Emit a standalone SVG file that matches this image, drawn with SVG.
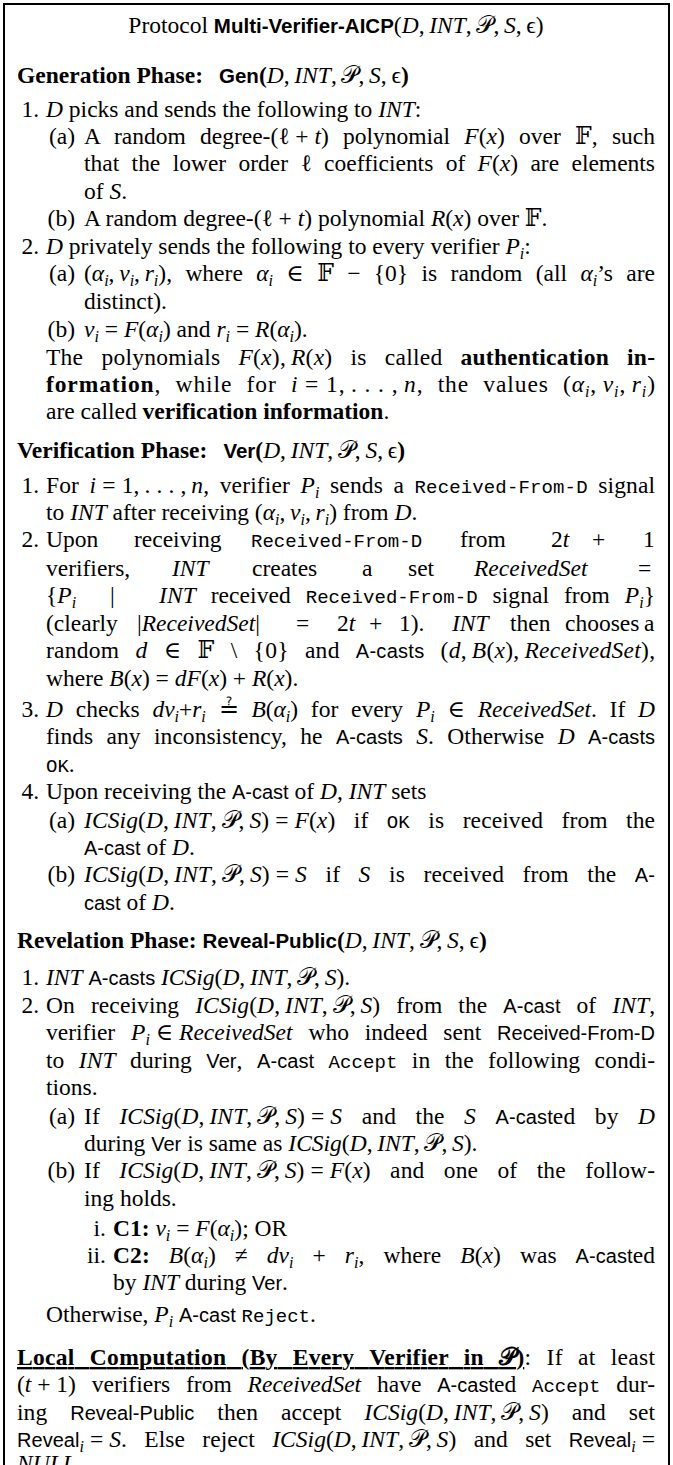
<svg xmlns="http://www.w3.org/2000/svg" width="673" height="1465" viewBox="0 0 673 1465">
<style>
text{font-family:"Liberation Serif","DejaVu Serif",serif;font-size:23.5px;fill:#000}
.i{font-style:italic}
.b{font-weight:bold}
.sf{font-family:"Liberation Sans","DejaVu Sans",sans-serif;font-size:20px;font-style:normal}
.sfb{font-family:"Liberation Sans","DejaVu Sans",sans-serif;font-size:20.5px;font-weight:bold}
.tt{font-family:"Liberation Mono","DejaVu Sans Mono",monospace;font-size:19px}
.s{font-size:16px;font-style:italic;baseline-shift:-5px}
.r{text-anchor:end}
.ul{text-decoration:underline}
</style>
<rect x="0" y="0" width="673" height="1465" fill="#fff"/>
<rect id="frame" x="4" y="4" width="665" height="1500" fill="none" stroke="#000" stroke-width="2"/>
<g id="title">
<text x="336" y="33" text-anchor="middle">Protocol <tspan class="sfb">Multi-Verifier-AICP</tspan>(<tspan class="i">D</tspan>,&#8201;<tspan class="i">INT</tspan>,&#8201;𝒫,&#8201;<tspan class="i">S</tspan>,&#8201;ϵ)</text>
</g>
<g id="generation">
<text x="17" y="83"><tspan class="b">Generation Phase:</tspan><tspan class="sfb" dx="16">Gen</tspan><tspan class="b">(</tspan><tspan class="i">D</tspan>,&#8201;<tspan class="i">INT</tspan>,&#8201;𝒫,&#8201;<tspan class="i">S</tspan>,&#8201;ϵ<tspan class="b">)</tspan></text>
<text class="r" x="39" y="117">1.</text>
<text x="46" y="117"><tspan class="i">D</tspan> picks and sends the following to <tspan class="i">INT</tspan>:</text>
<text class="r" x="75" y="144">(a)</text>
<text x="84" y="144" style="word-spacing:8.5px" textLength="571" lengthAdjust="spacing">A random degree-(ℓ&#8197;+&#8197;<tspan class="i">t</tspan>) polynomial <tspan class="i">F</tspan>(<tspan class="i">x</tspan>) over 𝔽, such</text>
<text x="84" y="171" style="word-spacing:6.5px" textLength="571" lengthAdjust="spacing">that the lower order ℓ coefficients of <tspan class="i">F</tspan>(<tspan class="i">x</tspan>) are elements</text>
<text x="84" y="199">of <tspan class="i">S</tspan>.</text>
<text class="r" x="75" y="226">(b)</text>
<text x="84" y="226">A random degree-(ℓ&#8197;+&#8197;<tspan class="i">t</tspan>) polynomial <tspan class="i">R</tspan>(<tspan class="i">x</tspan>) over 𝔽.</text>
<text class="r" x="39" y="254">2.</text>
<text x="46" y="254"><tspan class="i">D</tspan> privately sends the following to every verifier <tspan class="i">P</tspan><tspan class="s">i</tspan>:</text>
<text class="r" x="75" y="281">(a)</text>
<text x="84" y="281" style="word-spacing:7.5px" textLength="571" lengthAdjust="spacing">(<tspan class="i">α</tspan><tspan class="s">i</tspan>,&#8201;<tspan class="i">v</tspan><tspan class="s">i</tspan>,&#8201;<tspan class="i">r</tspan><tspan class="s">i</tspan>), where <tspan class="i">α</tspan><tspan class="s">i</tspan> ∈ 𝔽 − {0} is random (all <tspan class="i">α</tspan><tspan class="s">i</tspan>’s are</text>
<text x="84" y="309">distinct).</text>
<text class="r" x="75" y="337">(b)</text>
<text x="84" y="337"><tspan class="i">v</tspan><tspan class="s">i</tspan> = <tspan class="i">F</tspan>(<tspan class="i">α</tspan><tspan class="s">i</tspan>) and <tspan class="i">r</tspan><tspan class="s">i</tspan> = <tspan class="i">R</tspan>(<tspan class="i">α</tspan><tspan class="s">i</tspan>).</text>
<text x="46" y="365" style="word-spacing:12px" textLength="609" lengthAdjust="spacing">The polynomials <tspan class="i">F</tspan>(<tspan class="i">x</tspan>),&#8201;<tspan class="i">R</tspan>(<tspan class="i">x</tspan>) is called <tspan class="b">authentication in-</tspan></text>
<text x="46" y="392" style="word-spacing:7.5px" textLength="609" lengthAdjust="spacing"><tspan class="b">formation</tspan>, while for <tspan class="i">i</tspan>&#8197;=&#8197;1,&#8201;.&#8197;.&#8197;.&#8197;,&#8201;<tspan class="i">n</tspan>, the values (<tspan class="i">α</tspan><tspan class="s">i</tspan>,&#8201;<tspan class="i">v</tspan><tspan class="s">i</tspan>,&#8201;<tspan class="i">r</tspan><tspan class="s">i</tspan>)</text>
<text x="46" y="419">are called <tspan class="b">verification information</tspan>.</text>
</g>
<g id="verification">
<text x="17" y="458"><tspan class="b">Verification Phase:</tspan><tspan class="sfb" dx="16">Ver</tspan><tspan class="b">(</tspan><tspan class="i">D</tspan>,&#8201;<tspan class="i">INT</tspan>,&#8201;𝒫,&#8201;<tspan class="i">S</tspan>,&#8201;ϵ<tspan class="b">)</tspan></text>
<text class="r" x="39" y="493">1.</text>
<text x="46" y="493" style="word-spacing:4.5px" textLength="609" lengthAdjust="spacing">For <tspan class="i">i</tspan>&#8197;=&#8197;1,&#8201;.&#8197;.&#8197;.&#8197;,&#8201;<tspan class="i">n</tspan>, verifier <tspan class="i">P</tspan><tspan class="s">i</tspan> sends a <tspan class="tt">Received-From-D</tspan> signal</text>
<text x="46" y="520">to <tspan class="i">INT</tspan> after receiving (<tspan class="i">α</tspan><tspan class="s">i</tspan>,&#8201;<tspan class="i">v</tspan><tspan class="s">i</tspan>,&#8201;<tspan class="i">r</tspan><tspan class="s">i</tspan>) from <tspan class="i">D</tspan>.</text>
<text class="r" x="39" y="547">2.</text>
<text y="547"><tspan x="46">Upon</tspan><tspan x="134">receiving</tspan><tspan x="251" class="tt">Received-From-D</tspan><tspan x="460">from</tspan><tspan x="551">2<tspan class="i">t</tspan></tspan><tspan x="592">+</tspan><tspan x="643">1</tspan></text>
<text y="576"><tspan x="46">verifiers,</tspan><tspan x="172" class="i">INT</tspan><tspan x="252">creates</tspan><tspan x="362">a</tspan><tspan x="408">set</tspan><tspan x="474" class="i">ReceivedSet</tspan><tspan x="638">=</tspan></text>
<text y="603"><tspan x="46">{</tspan><tspan class="i">P</tspan><tspan class="s">i</tspan><tspan x="110">|</tspan></text>
<text x="159" y="603" style="word-spacing:9px" textLength="496" lengthAdjust="spacing"><tspan class="i">INT</tspan> received <tspan class="tt">Received-From-D</tspan> signal from <tspan class="i">P</tspan><tspan class="s">i</tspan>}</text>
<text y="631"><tspan x="46">(clearly</tspan><tspan x="137">|<tspan class="i">ReceivedSet</tspan>|</tspan><tspan x="296">=</tspan><tspan x="337">2<tspan class="i">t</tspan></tspan><tspan x="369">+</tspan><tspan x="399">1).</tspan><tspan x="452" class="i">INT</tspan><tspan x="510">then</tspan><tspan x="565">chooses</tspan><tspan x="644">a</tspan></text>
<text x="46" y="658" style="word-spacing:10px" textLength="609" lengthAdjust="spacing">random <tspan class="i">d</tspan> ∈ 𝔽 \ {0} and <tspan class="sf">A-casts</tspan> (<tspan class="i">d</tspan>,&#8201;<tspan class="i">B</tspan>(<tspan class="i">x</tspan>),&#8201;<tspan class="i">ReceivedSet</tspan>),</text>
<text x="46" y="686">where <tspan class="i">B</tspan>(<tspan class="i">x</tspan>) = <tspan class="i">dF</tspan>(<tspan class="i">x</tspan>) + <tspan class="i">R</tspan>(<tspan class="i">x</tspan>).</text>
<text class="r" x="39" y="717">3.</text>
<text x="46" y="717" style="word-spacing:7px" textLength="609" lengthAdjust="spacing"><tspan class="i">D</tspan> checks <tspan class="i">dv</tspan><tspan class="s">i</tspan>+<tspan class="i">r</tspan><tspan class="s">i</tspan> ≟ <tspan class="i">B</tspan>(<tspan class="i">α</tspan><tspan class="s">i</tspan>) for every <tspan class="i">P</tspan><tspan class="s">i</tspan> ∈ <tspan class="i">ReceivedSet</tspan>. If <tspan class="i">D</tspan></text>
<text x="46" y="744" style="word-spacing:7.5px" textLength="609" lengthAdjust="spacing">finds any inconsistency, he <tspan class="sf">A-casts</tspan> <tspan class="i">S</tspan>. Otherwise <tspan class="i">D</tspan> <tspan class="sf">A-casts</tspan></text>
<text x="46" y="772"><tspan class="tt">OK</tspan>.</text>
<text class="r" x="39" y="799">4.</text>
<text x="46" y="799">Upon receiving the <tspan class="sf">A-cast</tspan> of <tspan class="i">D</tspan>, <tspan class="i">INT</tspan> sets</text>
<text class="r" x="75" y="828">(a)</text>
<text x="84" y="828" style="word-spacing:12.5px" textLength="571" lengthAdjust="spacing"><tspan class="i">ICSig</tspan>(<tspan class="i">D</tspan>,&#8201;<tspan class="i">INT</tspan>,&#8201;𝒫,&#8201;<tspan class="i">S</tspan>)&#8197;=&#8197;<tspan class="i">F</tspan>(<tspan class="i">x</tspan>) if <tspan class="tt">OK</tspan> is received from the</text>
<text x="84" y="855"><tspan class="sf">A-cast</tspan> of <tspan class="i">D</tspan>.</text>
<text class="r" x="75" y="882">(b)</text>
<text x="84" y="882" style="word-spacing:12.5px" textLength="571" lengthAdjust="spacing"><tspan class="i">ICSig</tspan>(<tspan class="i">D</tspan>,&#8201;<tspan class="i">INT</tspan>,&#8201;𝒫,&#8201;<tspan class="i">S</tspan>)&#8197;=&#8197;<tspan class="i">S</tspan> if <tspan class="i">S</tspan> is received from the <tspan class="sf">A-</tspan></text>
<text x="84" y="910"><tspan class="sf">cast</tspan> of <tspan class="i">D</tspan>.</text>
</g>
<g id="revelation">
<text x="17" y="948"><tspan class="b">Revelation Phase:</tspan><tspan class="sfb" dx="6">Reveal-Public</tspan><tspan class="b">(</tspan><tspan class="i">D</tspan>,&#8201;<tspan class="i">INT</tspan>,&#8201;𝒫,&#8201;<tspan class="i">S</tspan>,&#8201;ϵ<tspan class="b">)</tspan></text>
<text class="r" x="39" y="985">1.</text>
<text x="46" y="985"><tspan class="i">INT</tspan> <tspan class="sf">A-casts</tspan> <tspan class="i">ICSig</tspan>(<tspan class="i">D</tspan>,&#8201;<tspan class="i">INT</tspan>,&#8201;𝒫,&#8201;<tspan class="i">S</tspan>).</text>
<text class="r" x="39" y="1013">2.</text>
<text x="46" y="1013" style="word-spacing:10px" textLength="609" lengthAdjust="spacing">On receiving <tspan class="i">ICSig</tspan>(<tspan class="i">D</tspan>,&#8201;<tspan class="i">INT</tspan>,&#8201;𝒫,&#8201;<tspan class="i">S</tspan>) from the <tspan class="sf">A-cast</tspan> of <tspan class="i">INT</tspan>,</text>
<text x="46" y="1040" style="word-spacing:10px" textLength="609" lengthAdjust="spacing">verifier <tspan class="i">P</tspan><tspan class="s">i</tspan>&#8197;∈&#8197;<tspan class="i">ReceivedSet</tspan> who indeed sent <tspan class="sf">Received-From-D</tspan></text>
<text x="46" y="1068" style="word-spacing:8.5px" textLength="609" lengthAdjust="spacing">to <tspan class="i">INT</tspan> during <tspan class="sf">Ver</tspan>, <tspan class="sf">A-cast</tspan> <tspan class="tt">Accept</tspan> in the following condi-</text>
<text x="46" y="1095">tions.</text>
<text class="r" x="75" y="1124">(a)</text>
<text x="84" y="1124" style="word-spacing:13.5px" textLength="571" lengthAdjust="spacing">If <tspan class="i">ICSig</tspan>(<tspan class="i">D</tspan>,&#8201;<tspan class="i">INT</tspan>,&#8201;𝒫,&#8201;<tspan class="i">S</tspan>)&#8197;=&#8197;<tspan class="i">S</tspan> and the <tspan class="i">S</tspan> <tspan class="sf">A-cast</tspan>ed by <tspan class="i">D</tspan></text>
<text x="84" y="1151">during <tspan class="sf">Ver</tspan> is same as <tspan class="i">ICSig</tspan>(<tspan class="i">D</tspan>,&#8201;<tspan class="i">INT</tspan>,&#8201;𝒫,&#8201;<tspan class="i">S</tspan>).</text>
<text class="r" x="75" y="1178">(b)</text>
<text x="84" y="1178" style="word-spacing:13.5px" textLength="571" lengthAdjust="spacing">If <tspan class="i">ICSig</tspan>(<tspan class="i">D</tspan>,&#8201;<tspan class="i">INT</tspan>,&#8201;𝒫,&#8201;<tspan class="i">S</tspan>)&#8197;=&#8197;<tspan class="i">F</tspan>(<tspan class="i">x</tspan>) and one of the follow-</text>
<text x="84" y="1206">ing holds.</text>
<text class="r" x="106" y="1236">i.</text>
<text x="113" y="1236"><tspan class="b">C1:</tspan> <tspan class="i">v</tspan><tspan class="s">i</tspan> = <tspan class="i">F</tspan>(<tspan class="i">α</tspan><tspan class="s">i</tspan>); OR</text>
<text class="r" x="106" y="1263">ii.</text>
<text x="113" y="1263" style="word-spacing:13px" textLength="542" lengthAdjust="spacing"><tspan class="b">C2:</tspan> <tspan class="i">B</tspan>(<tspan class="i">α</tspan><tspan class="s">i</tspan>) ≠ <tspan class="i">dv</tspan><tspan class="s">i</tspan> + <tspan class="i">r</tspan><tspan class="s">i</tspan>, where <tspan class="i">B</tspan>(<tspan class="i">x</tspan>) was <tspan class="sf">A-cast</tspan>ed</text>
<text x="113" y="1290">by <tspan class="i">INT</tspan> during <tspan class="sf">Ver</tspan>.</text>
<text x="46" y="1322">Otherwise, <tspan class="i">P</tspan><tspan class="s">i</tspan> <tspan class="sf">A-cast</tspan> <tspan class="tt">Reject</tspan>.</text>
</g>
<g id="local">
<text x="17" y="1365" style="word-spacing:9px" textLength="638" lengthAdjust="spacing"><tspan class="b ul">Local Computation (By Every Verifier in 𝒫)</tspan>: If at least</text>
<text x="17" y="1392" style="word-spacing:10px" textLength="638" lengthAdjust="spacing">(<tspan class="i">t</tspan>&#8197;+&#8197;1) verifiers from <tspan class="i">ReceivedSet</tspan> have <tspan class="sf">A-cast</tspan>ed <tspan class="tt">Accept</tspan> dur-</text>
<text x="17" y="1420" style="word-spacing:17px" textLength="638" lengthAdjust="spacing">ing <tspan class="sf">Reveal-Public</tspan> then accept <tspan class="i">ICSig</tspan>(<tspan class="i">D</tspan>,&#8201;<tspan class="i">INT</tspan>,&#8201;𝒫,&#8201;<tspan class="i">S</tspan>) and set</text>
<text x="17" y="1447" style="word-spacing:11.5px" textLength="638" lengthAdjust="spacing"><tspan class="sf">Reveal</tspan><tspan class="s">i</tspan>&#8197;=&#8197;<tspan class="i">S</tspan>. Else reject <tspan class="i">ICSig</tspan>(<tspan class="i">D</tspan>,&#8201;<tspan class="i">INT</tspan>,&#8201;𝒫,&#8201;<tspan class="i">S</tspan>) and set <tspan class="sf">Reveal</tspan><tspan class="s">i</tspan>&#8197;=</text>
<text x="17" y="1471"><tspan class="i">NULL</tspan>.</text>
</g>
</svg>
